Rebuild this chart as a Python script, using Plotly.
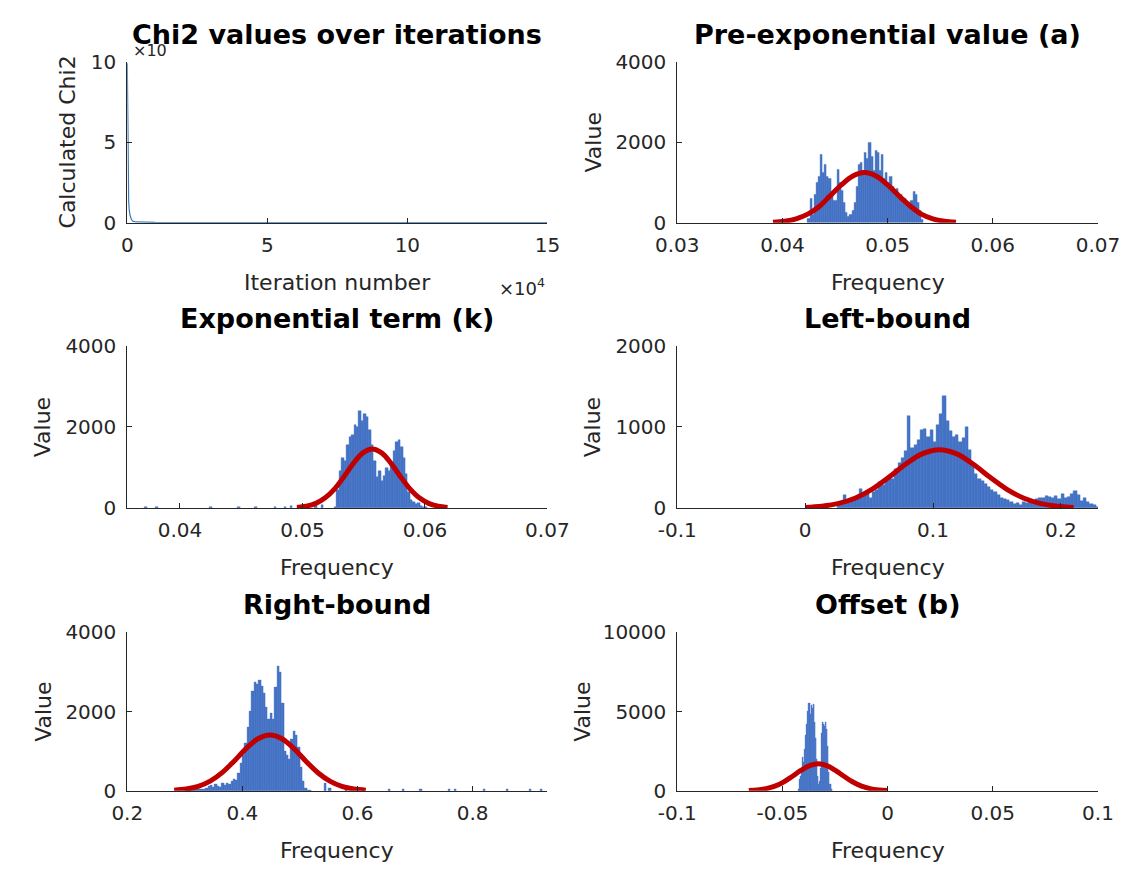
import plotly.graph_objects as go

# ---------------- data ----------------
# Chi2 trace (x in iterations, y in displayed units)
chi2_iter = [1, 100, 200, 300, 500, 700, 1000, 1500, 2000, 3000, 5000, 10000, 50000, 100000, 150000]
chi2_vals = [9.9, 6.5, 3.8, 2.5, 1.3, 0.8, 0.45, 0.2, 0.1, 0.05, 0.03, 0.02, 0.01, 0.01, 0.01]

# Pre-exponential value (a)
a_start, a_width = 0.0424, 0.0002
a_counts = [100, 600, 200, 700, 1000, 1150, 1700, 1250, 1450, 1150, 1100, 700, 550,
            550, 1330, 1000, 800, 500, 250, 150, 200, 300, 500, 900, 1450, 1500, 1300,
            1750, 1600, 1990, 1650, 1300, 1800, 1750, 1300, 1700, 1100, 1250, 1000,
            1150, 900, 800, 850, 650, 700, 500, 600, 450, 500, 550, 780, 700, 500,
            300, 80]
a_fit_x = [0.0391, 0.0402, 0.0413, 0.0424, 0.0435, 0.0445, 0.0456, 0.0467, 0.0478,
           0.0489, 0.0500, 0.0511, 0.0522, 0.0532, 0.0543, 0.0554, 0.0565]
a_fit_y = [14, 40, 99, 215, 405, 662, 940, 1161, 1246, 1161, 940, 662, 405, 215, 99, 40, 14]

# Exponential term (k)
k_start, k_width = 0.0526, 0.0002
k_counts = [20, 450, 920, 1240, 1160, 1560, 1760, 1800, 2040, 2000, 2400, 2160, 2320,
            2240, 1920, 1560, 1160, 760, 920, 680, 800, 1000, 920, 1080, 1400, 1640,
            1680, 1520, 1240, 840, 400, 200, 150, 100, 120, 60, 40, 20]
k_tail_x = [0.0372, 0.0381, 0.0425, 0.0448, 0.0462, 0.0478, 0.0486, 0.0491, 0.0497, 0.0511, 0.0516]
k_tail_y = [30, 25, 20, 30, 25, 30, 40, 60, 40, 50, 80]
k_fit_x = [0.04955, 0.05032, 0.05109, 0.05186, 0.05263, 0.05339, 0.05416, 0.05493, 0.0557,
           0.05647, 0.05724, 0.05801, 0.05878, 0.05954, 0.06031, 0.06108, 0.06185]
k_fit_y = [16, 47, 116, 252, 474, 775, 1102, 1361, 1460, 1361, 1102, 775, 474, 252, 116, 47, 16]

# Left-bound
l_start, l_width = 0.025, 0.0025
l_counts = [40, 60, 160, 80, 100, 120, 140, 240, 150, 180, 130, 200, 220, 320, 280, 330,
            380, 360, 480, 560, 620, 700, 1140, 740, 780, 840, 960, 980, 880, 960, 820,
            1020, 1160, 1380, 1080, 950, 880, 900, 820, 860, 1000, 720, 560, 420, 360,
            340, 300, 260, 220, 200, 160, 130, 110, 100, 70, 50, 60, 40, 70, 60, 80, 90,
            110, 130, 120, 150, 140, 120, 150, 110, 180, 120, 140, 180, 210, 160, 90,
            120, 80, 50, 40, 20]
l_fit_x = [0.0, 0.01313, 0.02625, 0.03938, 0.0525, 0.06563, 0.07875, 0.09188, 0.105,
           0.11813, 0.13125, 0.14438, 0.1575, 0.17063, 0.18375, 0.19688, 0.21]
l_fit_y = [8, 23, 57, 124, 234, 382, 543, 671, 720, 671, 543, 382, 234, 124, 57, 23, 8]

# Right-bound
r_start, r_width = 0.300, 0.004
r_counts = [30, 20, 40, 30, 20, 50, 30, 40, 30, 60, 120, 150, 100, 160, 120, 100, 180,
            140, 200, 160, 250, 300, 260, 450, 700, 900, 1200, 1600, 2000, 2500, 2750,
            2700, 2800, 2650, 2450, 2100, 1800, 1950, 1800, 2600, 3150, 3000, 2200, 1000,
            900, 800, 1300, 1500, 1400, 1100, 600, 250, 60, 20, 10]
r_tail_x = [0.544, 0.552, 0.58, 0.61, 0.655, 0.68, 0.71, 0.76, 0.77, 0.82, 0.86, 0.90, 0.92]
r_tail_y = [180, 60, 40, 30, 30, 30, 30, 40, 40, 30, 30, 30, 50]
r_fit_x = [0.2815, 0.3024, 0.3232, 0.3440, 0.3648, 0.3856, 0.4064, 0.4272, 0.448, 0.4688,
           0.4896, 0.5104, 0.5313, 0.5521, 0.5729, 0.5937, 0.6145]
r_fit_y = [16, 45, 112, 243, 457, 748, 1063, 1312, 1408, 1312, 1063, 748, 457, 243, 112, 45, 16]

# Offset (b)
b_start, b_width = -0.0425, 0.0005
b_counts = [100, 700, 900, 1200, 2100, 1800, 2600, 3500, 4200, 5000, 5500, 4800, 5400,
            5200, 5450, 4300, 3300, 2000, 900, 400, 600, 1400, 3600, 4300, 4200, 4100,
            4300, 3900, 2800, 1200, 400, 100]
b_fit_x = [-0.066, -0.0619, -0.0578, -0.0536, -0.0495, -0.0454, -0.0413, -0.0371, -0.033,
           -0.0289, -0.0248, -0.0206, -0.0165, -0.0124, -0.0083, -0.0041, 0.0]
b_fit_y = [19, 54, 135, 293, 552, 903, 1283, 1585, 1700, 1585, 1283, 903, 552, 293, 135, 54, 19]

# tick labels
chi2_xticks = [0, 50000, 100000, 150000]
chi2_xtext = ["0", "5", "10", "15"]
chi2_yticks = [0, 5, 10]
a_xticks = [0.03, 0.04, 0.05, 0.06, 0.07]
a_xtext = ["0.03", "0.04", "0.05", "0.06", "0.07"]
k_xticks = [0.04, 0.05, 0.06, 0.07]
k_xtext = ["0.04", "0.05", "0.06", "0.07"]
l_xticks = [-0.1, 0, 0.1, 0.2]
l_xtext = ["-0.1", "0", "0.1", "0.2"]
r_xticks = [0.2, 0.4, 0.6, 0.8]
r_xtext = ["0.2", "0.4", "0.6", "0.8"]
b_xticks = [-0.1, -0.05, 0, 0.05, 0.1]
b_xtext = ["-0.1", "-0.05", "0", "0.05", "0.1"]

titles = ["Chi2 values over iterations", "Pre-exponential value (a)", "Exponential term (k)",
          "Left-bound", "Right-bound", "Offset (b)"]

# ---------------- layout helpers ----------------
W, H = 1144, 878
FONT = "DejaVu Sans"
AX = "#262626"
BLUE = "#4472C4"
RED = "#C00000"

COLS = [(109.5, 546.4), (681.5, 1119.0)]
ROWS = [(51.0, 216.7), (343.3, 510.0), (637.7, 800.7)]


def xdom(c):
    return [COLS[c][0] / W, COLS[c][1] / W]


def ydom(r):
    return [1 - ROWS[r][1] / H, 1 - ROWS[r][0] / H]


def centers(start, width, counts):
    return [start + width * (i + 0.5) for i in range(len(counts))]


fig = go.Figure()

panels = [(0, 0), (0, 1), (1, 0), (1, 1), (2, 0), (2, 1)]

layout = dict(
    width=W, height=H, margin=dict(l=0, r=0, t=0, b=0),
    paper_bgcolor="white", plot_bgcolor="white", showlegend=False,
    barmode="overlay", bargap=0,
    font=dict(family=FONT, color=AX, size=20),
)

xr = [[0, 150000], [0.03, 0.07], [0.0357, 0.07], [-0.1, 0.229], [0.2, 0.93], [-0.1, 0.1]]
yr = [[0, 10], [0, 4000], [0, 4000], [0, 2000], [0, 4000], [0, 10000]]
xt = [(chi2_xticks, chi2_xtext), (a_xticks, a_xtext), (k_xticks, k_xtext),
      (l_xticks, l_xtext), (r_xticks, r_xtext), (b_xticks, b_xtext)]
yt = [chi2_yticks, [0, 2000, 4000], [0, 2000, 4000], [0, 1000, 2000], [0, 2000, 4000],
      [0, 5000, 10000]]

for i, (r, c) in enumerate(panels):
    n = "" if i == 0 else str(i + 1)
    common = dict(showline=True, linecolor=AX, linewidth=1, ticks="inside", ticklen=5,
                  tickcolor=AX, tickwidth=1, showgrid=False, zeroline=False,
                  tickfont=dict(family=FONT, size=20, color=AX), fixedrange=True)
    layout["xaxis" + n] = dict(domain=xdom(c), anchor="y" + n, range=xr[i],
                               tickmode="array", tickvals=xt[i][0], ticktext=xt[i][1],
                               ticklabelstandoff=4, **common)
    layout["yaxis" + n] = dict(domain=ydom(r), anchor="x" + n, range=yr[i],
                               tickmode="array", tickvals=yt[i],
                               ticktext=[str(v) for v in yt[i]],
                               ticklabelstandoff=6, **common)

fig.update_layout(**layout)

# ---------------- traces ----------------
fig.add_trace(go.Scatter(x=chi2_iter, y=chi2_vals, mode="lines",
                         line=dict(color="#3B78B8", width=1.2), xaxis="x", yaxis="y"))

hist = [
    (2, a_start, a_width, a_counts, None, None, a_fit_x, a_fit_y),
    (3, k_start, k_width, k_counts, k_tail_x, k_tail_y, k_fit_x, k_fit_y),
    (4, l_start, l_width, l_counts, None, None, l_fit_x, l_fit_y),
    (5, r_start, r_width, r_counts, r_tail_x, r_tail_y, r_fit_x, r_fit_y),
    (6, b_start, b_width, b_counts, None, None, b_fit_x, b_fit_y),
]
for n, st, wd, cnt, tx, ty, fx, fy in hist:
    xa, ya = "x" + str(n), "y" + str(n)
    fig.add_trace(go.Bar(x=centers(st, wd, cnt), y=cnt, width=wd,
                         marker=dict(color=BLUE, line=dict(width=0.4, color=BLUE)),
                         xaxis=xa, yaxis=ya))
    if tx is not None:
        fig.add_trace(go.Bar(x=tx, y=ty, width=wd,
                             marker=dict(color=BLUE, line=dict(width=0.4, color=BLUE)),
                             xaxis=xa, yaxis=ya))
    fig.add_trace(go.Scatter(x=fx, y=fy, mode="lines",
                             line=dict(color=RED, width=5, shape="spline"),
                             xaxis=xa, yaxis=ya))

# ---------------- annotations ----------------
ann = []
# exponent label top-left (partly covered by title, as in the original)
ann.append(dict(text="×10", x=113 / W, y=1 - 40 / H, xref="paper", yref="paper",
                xanchor="left", yanchor="middle", showarrow=False,
                font=dict(family=FONT, size=16, color=AX)))
ann.append(dict(text="×10<sup>4</sup>", x=COLS[0][1] / W, y=1 - ROWS[0][1] / H,
                xref="paper", yref="paper", xanchor="right", yanchor="top",
                yshift=-50, showarrow=False, font=dict(family=FONT, size=18, color=AX)))

for i, (r, c) in enumerate(panels):
    xc = (COLS[c][0] + COLS[c][1]) / 2 / W
    ann.append(dict(text="<b>" + titles[i] + "</b>", x=xc, y=1 - ROWS[r][0] / H,
                    xref="paper", yref="paper", xanchor="center", yanchor="bottom",
                    yshift=10, showarrow=False, font=dict(family=FONT, size=27, color="black")))
    xlabel = "Iteration number" if i == 0 else "Frequency"
    ann.append(dict(text=xlabel, x=xc, y=1 - ROWS[r][1] / H, xref="paper", yref="paper",
                    xanchor="center", yanchor="top", yshift=-45, showarrow=False,
                    font=dict(family=FONT, size=22, color=AX)))
    ylabel = "Calculated Chi2" if i == 0 else "Value"
    off = -60 if i == 0 else (-95 if i == 5 else -84)
    ann.append(dict(text=ylabel, x=COLS[c][0] / W, y=1 - (ROWS[r][0] + ROWS[r][1]) / 2 / H,
                    xref="paper", yref="paper", xanchor="center", yanchor="middle",
                    xshift=off, textangle=-90, showarrow=False,
                    font=dict(family=FONT, size=22, color=AX)))

fig.update_layout(annotations=ann)

fig.write_html("out.html")
